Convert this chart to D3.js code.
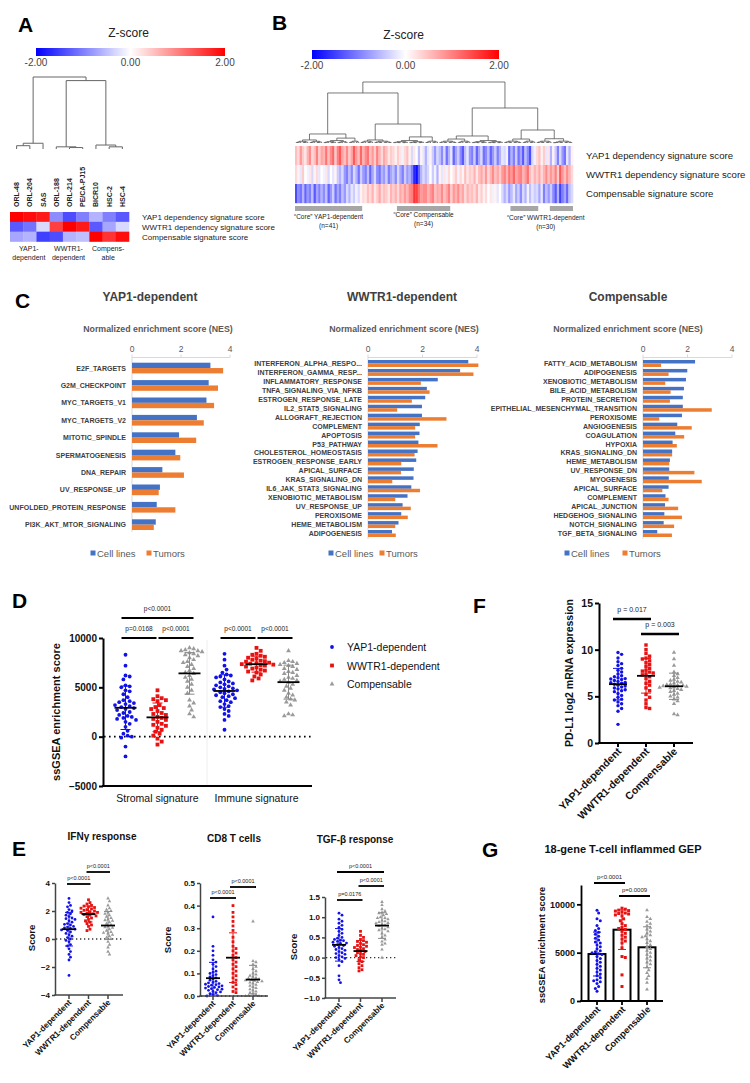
<!DOCTYPE html>
<html>
<head>
<meta charset="utf-8">
<script src="https://cdn.jsdelivr.net/npm/d3@7"></script>
<style>
  body { margin: 0; background: #fff; }
  svg { font-family: "Liberation Sans", Arial, sans-serif; }
</style>
</head>
<body>
<svg id="fig" width="750" height="1083"></svg>
<script>
// ---------------- data ----------------
const zTicks = ["-2.00", "0.00", "2.00"];
const sigRows = ["YAP1 dependency signature score", "WWTR1 dependency signature score", "Compensable signature score"];
const groupNames = ["YAP1-dependent", "WWTR1-dependent", "Compensable"];

// panel A: cell lines
const cellLines = ["ORL-48", "ORL-204", "SAS", "ORL-188", "ORL-214", "PE/CA-PJ15", "BICR10", "HSC-2", "HSC-4"];
const cellYap1 = [2.0, 1.9, 1.8, -0.9, -1.4, -1.0, -0.6, -1.0, -1.3];
const cellWwtr1 = [-1.3, -1.1, -0.3, 1.5, 2.0, 1.8, -1.3, -0.7, -0.3];
const cellComp = [-0.7, -0.6, -1.5, -1.4, -0.6, -0.5, 2.0, 1.6, 1.9];
const cellGroups = [["YAP1-", "dependent"], ["WWTR1-", "dependent"], ["Compens-", "able"]];
const cellTree = { h: 1, children: [
  { h: 0.08, children: [{ h: 0.046, children: [{ name: "ORL-48" }, { name: "ORL-204" }] }, { name: "SAS" }] },
  { h: 0.95, children: [
    { h: 0.03, children: [{ name: "ORL-188" }, { h: 0.02, children: [{ name: "ORL-214" }, { name: "PE/CA-PJ15" }] }] },
    { h: 0.055, children: [{ name: "BICR10" }, { h: 0.03, children: [{ name: "HSC-2" }, { name: "HSC-4" }] }] }
  ] }
] };

// panel B: tumours (one value per heatmap column)
const tumorYap1 = [
  0.5, 0.3, 0.8, 0.4, 0.2, 0.6, 0.9, 0.3, 0.5, 1.0, 0.4, 0.7,
  0.6, 1.1, 0.5, 0.9, 1.2, 0.4, 1.0, 1.3, 0.7, 0.5, 0.9,
  0.4, 0.7, 1.3, 0.8, 0.5,
  1.2, 0.6, 0.9, 1.1, 0.5, 0.8, 0.4, 1.0, 0.6, 0.3, 0.7, 0.5, 0.2, 0.4,
  0.3, 0.1, 0.4, 0.2, -0.1, 0.3, 0.5, 0.1, -0.3, 0.2, 0.0, -0.5, 0.1, -0.2,
  -0.6, -0.2, 0.1, -0.4, -0.8, -0.3,
  -0.5, -0.9, -0.3, -1.1, -0.6, -0.2, -1.2, -0.7, -0.4, -0.9, -1.3, -0.5, -0.2, -0.8,
  -1.0, -0.4, -1.2, -0.7, -0.3, -1.1, -0.9, -0.5, -1.2, -0.8, -0.4, -1.0, -0.6, -0.2,
  -0.3, -0.1, -1.2, -0.6, -1.0, -0.4, -1.1, -0.7, -1.3, -0.5, -0.9, -1.4, -0.3, -0.1,
  0.3, 0.5, 0.1, 0.4, -0.2, 0.2, -0.6,
  0.1, -0.4, -1.0, -0.3, -0.8, -1.1, -0.2, -0.6, 0.1
];
const tumorWwtr1 = [
  0.3, 0.1, -0.2, 0.4, 0.0, -0.1, 0.2, -0.3, 0.1, 0.3, -0.2, 0.0,
  -0.1, 0.2, -0.3, 0.0, -0.2, 0.1, -0.4, -0.6, -0.3, -0.8, -1.0,
  -0.5, -0.9, -0.3, -0.6, -1.1,
  -0.4, -0.8, -1.0, -0.5, -1.2, -0.7, -0.3, -0.9, -1.1, -0.6, -0.8, -0.4, -1.0, -0.7,
  -0.5, -0.9, -0.3, -0.7, -1.0, -0.4, -0.8, -0.6, -1.0, -1.7, -1.9, -1.2, -0.6, -0.3,
  -0.5, -0.3, 0.0, -0.4, -0.1, -0.6,
  0.1, -0.2, 0.2, -0.1, 0.3, 0.0, 0.2, 0.4, -0.1, 0.3, 0.1, 0.5, 0.2, 0.4,
  0.3, 0.6, 0.2, 0.5, 0.7, 0.4, 0.8, 0.3, 0.6, 0.9, 0.5, 0.7, 0.4, 0.8,
  1.0, 0.6, 1.1, 0.8, 1.2, 0.7, 0.9, 1.0, 0.6, 0.8, 1.1, 0.5, 0.3, 0.6,
  0.4, 0.7, 0.3, 0.6, 0.9, 0.5, 0.8,
  0.6, 1.0, 0.4, 1.3, 0.8, 0.5, 0.9, 0.6, 0.3
];
const tumorComp = [
  -1.4, -0.9, -1.1, -0.6, -1.2, -0.8, -1.0, -0.5, -1.3, -0.7, -1.0, -0.6,
  -0.9, -0.5, -1.2, -0.8, -0.4, -1.1, -0.7, -1.0, -0.5, -0.8, -0.3,
  -0.6, -0.2, -0.4, -0.1, -0.3,
  0.1, 0.3, 0.2, 0.5, 0.3, 0.6, 0.2, 0.4, 0.7, 0.3, 0.5, 0.4, 0.2, 0.6,
  0.4, 0.6, 0.3, 0.7, 0.5, 0.8, 0.6, 0.9, 1.0, 1.6, 1.5, 1.1, 0.8, 0.9,
  0.9, 0.6, 0.8, 1.0, 0.5, 0.7,
  0.6, 0.9, 0.5, 0.7, 1.0, 0.4, 0.8, 0.6, 0.9, 0.5, 0.7, 0.3, 0.6, 0.4,
  0.5, 0.3, 0.6, 0.2, 0.4, 0.1, 0.3, 0.0, 0.2, -0.1, 0.1, -0.2, 0.0, -0.3,
  -0.6, -0.3, -0.8, -0.5, -0.2, -0.7, -0.4, -0.9, -0.3, -0.6, -0.1, -0.5, -0.2, -0.4,
  -0.3, -0.7, -0.2, -1.0, -0.5, -0.8, -0.4,
  -0.9, -1.3, -0.6, -1.5, -1.0, -0.7, -1.2, -0.5, -0.3
];
// column ranges of the clusters under the dendrogram
const tumorTree = { h: 1, children: [
  { h: 0.82, children: [
    { h: 0.148, children: [{ h: 0.05, cols: [0, 11] }, { h: 0.08, children: [{ h: 0.04, cols: [12, 22] }, { h: 0.03, cols: [23, 27] }] }] },
    { h: 0.311, children: [
      { h: 0.05, children: [{ h: 0.03, cols: [28, 33] }, { h: 0.03, cols: [34, 41] }] },
      { h: 0.1, children: [{ h: 0.04, cols: [42, 55] }, { h: 0.03, cols: [56, 61] }] }
    ] }
  ] },
  { h: 0.574, children: [
    { h: 0.115, children: [{ h: 0.065, children: [{ h: 0.03, cols: [62, 69] }, { h: 0.03, cols: [70, 75] }] }, { h: 0.04, cols: [76, 89] }] },
    { h: 0.213, children: [
      { h: 0.065, children: [{ h: 0.03, cols: [90, 97] }, { h: 0.03, cols: [98, 103] }] },
      { h: 0.07, children: [{ h: 0.03, cols: [104, 110] }, { h: 0.03, cols: [111, 119] }] }
    ] }
  ] }
] };
const coreBars = [[0, 28], [44, 66], [93, 104], [110, 119]];
const coreLabels = [["“Core” YAP1-dependent", "(n=41)"], ["“Core” Compensable", "(n=34)"], ["“Core” WWTR1-dependent", "(n=30)"]];

// panel C: NES
const yapPathways = ["E2F_TARGETS", "G2M_CHECKPOINT", "MYC_TARGETS_V1", "MYC_TARGETS_V2", "MITOTIC_SPINDLE",
  "SPERMATOGENESIS", "DNA_REPAIR", "UV_RESPONSE_UP", "UNFOLDED_PROTEIN_RESPONSE", "PI3K_AKT_MTOR_SIGNALING"];
const yapCell = [3.2, 3.13, 3.04, 2.65, 1.92, 1.77, 1.24, 1.14, 1.01, 0.97];
const yapTumor = [3.72, 3.51, 3.35, 2.93, 2.62, 1.97, 2.12, 1.09, 1.77, 0.89];
const wwtrPathways = ["INTERFERON_ALPHA_RESPO...", "INTERFERON_GAMMA_RESP...", "INFLAMMATORY_RESPONSE", "TNFA_SIGNALING_VIA_NFKB",
  "ESTROGEN_RESPONSE_LATE", "IL2_STAT5_SIGNALING", "ALLOGRAFT_REJECTION", "COMPLEMENT", "APOPTOSIS", "P53_PATHWAY",
  "CHOLESTEROL_HOMEOSTASIS", "ESTROGEN_RESPONSE_EARLY", "APICAL_SURFACE", "KRAS_SIGNALING_DN", "IL6_JAK_STAT3_SIGNALING",
  "XENOBIOTIC_METABOLISM", "UV_RESPONSE_UP", "PEROXISOME", "HEME_METABOLISM", "ADIPOGENESIS"];
const wwtrCell = [3.68, 3.38, 2.56, 2.16, 2.1, 1.98, 1.98, 1.9, 1.89, 1.85, 1.82, 1.77, 1.68, 1.67, 1.59, 1.45, 1.27, 1.22, 1.12, 0.88];
const wwtrTumor = [4.05, 3.87, 1.94, 2.26, 1.61, 1.07, 2.88, 1.73, 1.73, 2.55, 1.71, 1.22, 1.21, 0.89, 1.91, 1.0, 1.57, 1.46, 1.0, 1.02];
const compPathways = ["FATTY_ACID_METABOLISM", "ADIPOGENESIS", "XENOBIOTIC_METABOLISM", "BILE_ACID_METABOLISM", "PROTEIN_SECRETION",
  "EPITHELIAL_MESENCHYMAL_TRANSITION", "PEROXISOME", "ANGIOGENESIS", "COAGULATION", "HYPOXIA", "KRAS_SIGNALING_DN",
  "HEME_METABOLISM", "UV_RESPONSE_DN", "MYOGENESIS", "APICAL_SURFACE", "COMPLEMENT", "APICAL_JUNCTION",
  "HEDGEHOG_SIGNALING", "NOTCH_SIGNALING", "TGF_BETA_SIGNALING"];
const compCell = [2.34, 1.99, 1.93, 1.84, 1.79, 1.79, 1.75, 1.54, 1.45, 1.33, 1.31, 1.21, 1.18, 1.16, 1.15, 1.01, 0.99, 0.96, 0.93, 0.64];
const compTumor = [0.81, 1.15, 1.0, 1.24, 1.21, 3.09, 0.73, 2.19, 1.85, 1.52, 1.31, 1.18, 2.31, 2.64, 0.87, 1.15, 1.58, 1.75, 1.4, 1.3];
const nesTicks = [0, 2, 4];

// panel D: ssGSEA scores
const dCategories = ["Stromal signature", "Immune signature"];
const stromalYap = [8300, 7200, 6200, 6100, 5800, 5200, 5100, 5000, 4700, 4600, 4300, 4000, 3700, 3600, 3500, 3400, 3300, 3200,
  3100, 3000, 2900, 2800, 2700, 2500, 2400, 2200, 2100, 2000, 1900, 1800, 1700, 1500, 1300, 1000, 600, 300, 100, 0, -100, -1000, -2000];
const stromalWwtr = [4700, 4100, 3900, 3800, 3700, 3600, 3200, 3000, 2900, 2800, 2600, 2400, 2300, 2200, 2000, 1900, 1800, 1700,
  1500, 1300, 1200, 1100, 900, 700, 500, 300, 100, -200, -500, -800];
const stromalComp = [9000, 8900, 8800, 8700, 8700, 8600, 8500, 8400, 8300, 8200, 8000, 7800, 7600, 7500, 7300, 7100, 6900, 6700,
  6500, 6400, 6200, 6000, 5800, 5600, 5300, 5000, 4700, 4400, 3700, 3400, 3100, 2700, 2300, 2000];
const immuneYap = [8400, 7800, 7200, 6800, 6500, 6300, 6200, 6100, 6000, 5800, 5600, 5500, 5400, 5300, 5200, 5100, 5000, 4900,
  4850, 4800, 4700, 4600, 4500, 4400, 4300, 4200, 4100, 4000, 3900, 3700, 3600, 3500, 3300, 3100, 3000, 2800, 2600, 2300, 2100, 1700, 700];
const immuneWwtr = [9000, 8700, 8400, 8300, 8200, 8100, 8000, 7900, 7800, 7700, 7650, 7600, 7500, 7450, 7400, 7350, 7300, 7250,
  7200, 7100, 7000, 6900, 6800, 6700, 6600, 6500, 6300, 6100, 5900, 5700];
const immuneComp = [8700, 7700, 7600, 7500, 7400, 7300, 7200, 7100, 6900, 6800, 6600, 6500, 6400, 6200, 6000, 5900, 5800, 5700,
  5600, 5500, 5300, 5100, 4900, 4700, 4400, 4200, 4000, 3800, 3700, 3500, 3200, 2300, 2200, 2100];
const dTicks = [-5000, 0, 5000, 10000];
const dSig = [
  { cat: 0, a: 0, b: 2, p: "p<0.0001", level: 1 },
  { cat: 0, a: 0, b: 1, p: "p=0.0168", level: 0 },
  { cat: 0, a: 1, b: 2, p: "p<0.0001", level: 0 },
  { cat: 1, a: 0, b: 1, p: "p<0.0001", level: 0 },
  { cat: 1, a: 1, b: 2, p: "p<0.0001", level: 0 }
];

// panel F: PD-L1
const pdl1Yap = [9.7, 9.5, 9.1, 8.7, 8.5, 8.3, 8.0, 7.8, 7.6, 7.4, 7.2, 7.1, 7.0, 6.9, 6.85, 6.8, 6.7, 6.6, 6.5, 6.45, 6.4,
  6.3, 6.2, 6.1, 6.0, 5.9, 5.8, 5.7, 5.6, 5.5, 5.3, 5.1, 4.9, 4.7, 4.6, 4.4, 4.2, 4.0, 3.7, 3.4, 2.0];
const pdl1Wwtr = [10.5, 10.0, 9.6, 9.3, 9.1, 9.0, 8.8, 8.6, 8.4, 8.2, 8.0, 7.8, 7.7, 7.6, 7.5, 7.4, 7.3, 7.1, 6.9, 6.6,
  6.4, 6.2, 5.9, 5.6, 5.2, 4.9, 4.6, 4.2, 3.8, 3.7];
const pdl1Comp = [9.7, 9.0, 8.3, 7.6, 7.4, 7.2, 7.0, 6.8, 6.7, 6.6, 6.5, 6.4, 6.3, 6.25, 6.2, 6.15, 6.1, 6.05, 6.0, 5.95,
  5.9, 5.8, 5.7, 5.6, 5.5, 5.3, 5.2, 5.0, 4.9, 4.7, 4.5, 4.2, 3.1, 3.0];
const pdl1Ticks = [0, 5, 10, 15];
const pdl1Sig = [{ a: 0, b: 1, p: "p = 0.017", level: 1 }, { a: 1, b: 2, p: "p = 0.003", level: 0 }];

// panel E
const ifngYap = [2.9, 2.6, 2.4, 2.3, 2.1, 2.0, 1.9, 1.8, 1.7, 1.6, 1.5, 1.45, 1.4, 1.3, 1.2, 1.1, 1.05, 1.0, 0.9, 0.85, 0.8,
  0.75, 0.7, 0.65, 0.6, 0.5, 0.4, 0.3, 0.2, 0.1, 0.0, -0.1, -0.2, -0.4, -0.5, -0.7, -0.9, -1.1, -1.3, -1.5, -2.6];
const ifngWwtr = [2.8, 2.6, 2.5, 2.4, 2.35, 2.3, 2.25, 2.2, 2.15, 2.1, 2.05, 2.0, 1.95, 1.9, 1.9, 1.85, 1.8, 1.75, 1.7, 1.65,
  1.6, 1.5, 1.4, 1.3, 1.2, 1.1, 1.0, 0.9, 0.7, 0.6];
const ifngComp = [2.9, 2.7, 2.4, 2.2, 2.1, 2.0, 1.9, 1.8, 1.7, 1.6, 1.5, 1.4, 1.35, 1.3, 1.2, 1.1, 1.0, 0.9, 0.85, 0.8, 0.7,
  0.6, 0.5, 0.45, 0.4, 0.3, 0.2, 0.1, 0.0, -0.2, -0.4, -0.6, -0.9, -1.1];
const cd8Yap = [0.35, 0.22, 0.2, 0.18, 0.16, 0.15, 0.14, 0.13, 0.12, 0.11, 0.105, 0.1, 0.095, 0.09, 0.085, 0.08, 0.075, 0.07,
  0.065, 0.06, 0.058, 0.055, 0.052, 0.05, 0.048, 0.045, 0.042, 0.04, 0.038, 0.035, 0.032, 0.03, 0.028, 0.025, 0.02, 0.018,
  0.015, 0.01, 0.005, 0.002, 0.0];
const cd8Wwtr = [0.40, 0.37, 0.35, 0.33, 0.31, 0.29, 0.26, 0.24, 0.22, 0.21, 0.2, 0.19, 0.18, 0.17, 0.16, 0.15, 0.14, 0.13,
  0.12, 0.11, 0.1, 0.09, 0.08, 0.07, 0.06, 0.05, 0.04, 0.03, 0.02, 0.015];
const cd8Comp = [0.33, 0.155, 0.15, 0.14, 0.13, 0.12, 0.11, 0.1, 0.095, 0.09, 0.085, 0.08, 0.078, 0.075, 0.072, 0.07, 0.068,
  0.065, 0.062, 0.06, 0.055, 0.05, 0.045, 0.04, 0.035, 0.03, 0.025, 0.02, 0.015, 0.01, 0.005, 0.002, 0.0, 0.0];
const tgfbYap = [1.1, 1.05, 0.95, 0.9, 0.85, 0.8, 0.75, 0.7, 0.65, 0.6, 0.55, 0.5, 0.48, 0.45, 0.43, 0.42, 0.4, 0.38, 0.36,
  0.35, 0.32, 0.3, 0.28, 0.25, 0.22, 0.2, 0.18, 0.15, 0.12, 0.1, 0.08, 0.05, 0.02, 0.0, -0.02, -0.05, -0.1, -0.2, -0.45, -0.55, -0.62];
const tgfbWwtr = [0.65, 0.55, 0.5, 0.45, 0.42, 0.4, 0.38, 0.35, 0.32, 0.3, 0.28, 0.26, 0.25, 0.22, 0.2, 0.18, 0.15, 0.12, 0.1,
  0.08, 0.05, 0.02, 0.0, -0.05, -0.1, -0.15, -0.2, -0.25, -0.3, -0.33];
const tgfbComp = [1.38, 1.3, 1.2, 1.15, 1.12, 1.1, 1.08, 1.05, 1.0, 0.98, 0.98, 0.95, 0.92, 0.9, 0.88, 0.86, 0.85, 0.82, 0.8,
  0.78, 0.75, 0.72, 0.7, 0.68, 0.65, 0.6, 0.55, 0.5, 0.45, 0.4, 0.35, 0.32, 0.2, 0.0];
const ifngSig = [{ a: 0, b: 1, p: "p<0.0001", level: 0 }, { a: 1, b: 2, p: "p<0.0001", level: 1 }];
const cd8Sig = [{ a: 0, b: 1, p: "p<0.0001", level: 0 }, { a: 1, b: 2, p: "p<0.0001", level: 1 }];
const tgfbSig = [{ a: 0, b: 1, p: "p=0.0176", level: 0 }, { a: 1, b: 2, p: "p<0.0001", level: 1 }, { a: 0, b: 2, p: "p<0.0001", level: 2 }];

// panel G
const gepYap = [9400, 9100, 8500, 8300, 7800, 7500, 7300, 7100, 6900, 6700, 6500, 6300, 6100, 6000, 5800, 5600, 5400, 5200,
  5100, 5000, 4900, 4800, 4600, 4400, 4200, 4000, 3800, 3600, 3400, 3200, 3000, 2800, 2600, 2400, 2200, 2100, 2000, 1800, 1500, 1300, 1000];
const gepWwtr = [9600, 9500, 9400, 9350, 9300, 9200, 9100, 9050, 9000, 8900, 8800, 8500, 8300, 8000, 7800, 7600, 7500, 7400,
  7200, 7000, 6800, 6600, 6400, 6200, 6000, 5500, 4600, 4500, 2700, 1500];
const gepComp = [9400, 8700, 8500, 8200, 8000, 7800, 7600, 7400, 7200, 7000, 6800, 6700, 6600, 6400, 6200, 6000, 5800, 5600,
  5400, 5200, 5000, 4800, 4600, 4400, 4200, 4000, 3800, 3500, 3200, 2900, 2600, 2300, 1900, 1200];
const gepTicks = [0, 5000, 10000];
const gepSig = [{ a: 0, b: 1, p: "p<0.0001", level: 1 }, { a: 1, b: 2, p: "p=0.0009", level: 0 }];

// ---------------- drawing ----------------
const svg = d3.select("#fig");
const defs = svg.append("defs");
const GROUP_COLORS = ["#1212e8", "#e81212", "#9a9a9a"];
const SD_COLORS = ["#1212e8", "#e81212", "#8a8a8a"];
const BLUE = "#4472c4", ORANGE = "#ed7d31";
const zColor = d3.scaleLinear().domain([-2, 0, 2]).range(["#0000ff", "#ffffff", "#ff0000"]).clamp(true);

function letter(t, x, y) {
  svg.append("text").attr("x", x).attr("y", y).attr("font-size", 21).attr("font-weight", "bold").text(t);
}

function colorBar(x0, x1, y0, h, id) {
  const grad = defs.append("linearGradient").attr("id", id);
  [-2, -1, 0, 1, 2].forEach(v => grad.append("stop").attr("offset", (v + 2) / 4).attr("stop-color", zColor(v)));
  const s = d3.scaleLinear().domain([-2, 2]).range([x0, x1]);
  svg.append("text").attr("x", s(0) - 2).attr("y", y0 - 11).attr("text-anchor", "middle")
    .attr("font-size", 12).attr("fill", "#222").text("Z-score");
  svg.append("rect").attr("x", x0).attr("y", y0).attr("width", x1 - x0).attr("height", h).attr("fill", `url(#${id})`);
  svg.selectAll(null).data(zTicks).join("text")
    .attr("x", d => s(+d)).attr("y", y0 + h + 9.5).attr("text-anchor", "middle")
    .attr("font-size", 10).attr("fill", "#444").text(d => d);
}

// draws an elbow dendrogram; leaves carry an x, inner nodes a height h
function drawDendro(tree, leafX, yH, stroke, sw) {
  const root = d3.hierarchy(tree);
  root.eachAfter(n => {
    if (!n.children) { n.px = leafX(n.data); n.py = yH(0); return; }
    n.px = (n.children[0].px + n.children[n.children.length - 1].px) / 2;
    n.py = yH(n.data.h);
  });
  const segs = [];
  root.each(n => {
    if (!n.children) return;
    const a = n.children[0], b = n.children[n.children.length - 1];
    segs.push(`M${a.px},${a.py}V${n.py}H${b.px}V${b.py}`);
  });
  svg.append("path").attr("d", segs.join("")).attr("fill", "none").attr("stroke", stroke).attr("stroke-width", sw);
}

// ---- A ----
letter("A", 18, 32);
colorBar(36, 225, 48, 8, "zA");
const xA = d3.scaleBand().domain(cellLines).range([10, 129]);
const yA = d3.scaleBand().domain(sigRows).range([212, 241.5]);
const yHA = d3.scaleLinear().domain([0, 1]).range([149, 77]);
drawDendro(cellTree, d => xA(d.name) + xA.bandwidth() / 2, yHA, "#666", 1);
svg.selectAll(null).data(cellLines).join("text")
  .attr("transform", d => `translate(${xA(d) + xA.bandwidth() / 2 + 2.5},207) rotate(-90)`)
  .attr("font-size", 7).attr("font-weight", "bold").attr("fill", "#222").text(d => d);
[cellYap1, cellWwtr1, cellComp].forEach((row, r) => {
  svg.selectAll(null).data(row).join("rect")
    .attr("x", (d, i) => xA(cellLines[i])).attr("y", yA(sigRows[r]))
    .attr("width", xA.bandwidth() + 0.3).attr("height", yA.bandwidth() + 0.3)
    .attr("fill", d => zColor(d));
});
svg.selectAll(null).data(sigRows).join("text")
  .attr("x", 142).attr("y", d => yA(d) + yA.bandwidth() / 2 + 3)
  .attr("font-size", 8).attr("fill", "#222").text(d => d);
cellGroups.forEach((lines, i) => {
  const cx = xA(cellLines[i * 3 + 1]) + xA.bandwidth() / 2 - 1;
  lines.forEach((t, j) => svg.append("text").attr("x", cx).attr("y", 251 + j * 9)
    .attr("text-anchor", "middle").attr("font-size", 7).attr("fill", "#222").text(t));
});

// ---- B ----
letter("B", 272, 30);
colorBar(312, 499, 50, 9, "zB");
const nCols = tumorYap1.length;
const xB = d3.scaleBand().domain(d3.range(nCols)).range([295, 573]);
const yB = d3.scaleBand().domain(sigRows).range([146, 203]);
const yHB = d3.scaleLinear().domain([0, 1]).range([143, 82]);
function splitCols(a, b, h) {
  if (a === b) return { col: a };
  const m = Math.floor((a + b) / 2);
  return { h, children: [splitCols(a, m, h * 0.55), splitCols(m + 1, b, h * 0.55)] };
}
function expandTree(n) {
  if (n.cols) return splitCols(n.cols[0], n.cols[1], n.h);
  return { h: n.h, children: n.children.map(expandTree) };
}
drawDendro(expandTree(tumorTree), d => xB(d.col) + xB.bandwidth() / 2, yHB, "#555", 0.8);
[tumorYap1, tumorWwtr1, tumorComp].forEach((row, r) => {
  svg.selectAll(null).data(row).join("rect")
    .attr("x", (d, i) => xB(i)).attr("y", yB(sigRows[r]))
    .attr("width", xB.bandwidth() + 0.3).attr("height", yB.bandwidth() + 0.2)
    .attr("fill", d => zColor(d));
});
svg.selectAll(null).data(sigRows).join("text")
  .attr("x", 586).attr("y", d => yB(d) + yB.bandwidth() / 2 + 3.5)
  .attr("font-size", 9.6).attr("fill", "#222").text(d => d);
svg.selectAll(null).data(coreBars).join("rect")
  .attr("x", d => xB(d[0])).attr("y", 206).attr("width", d => xB(d[1]) + xB.bandwidth() - xB(d[0])).attr("height", 5)
  .attr("fill", "#a6a6a6");
const coreCx = [
  (xB(coreBars[0][0]) + xB(coreBars[0][1]) + xB.bandwidth()) / 2,
  (xB(coreBars[1][0]) + xB(coreBars[1][1]) + xB.bandwidth()) / 2,
  (xB(coreBars[2][0]) + xB(coreBars[3][1]) + xB.bandwidth()) / 2 + 4
];
coreLabels.forEach((lines, i) => {
  lines.forEach((t, j) => svg.append("text").attr("x", coreCx[i]).attr("y", (i === 1 ? 217 : i === 2 ? 220 : 219) + j * 9)
    .attr("text-anchor", "middle").attr("font-size", 6.5).attr("fill", "#222").text(t));
});

// ---- C ----
letter("C", 15, 308);
function nesPanel(cfg, names, cell, tumor) {
  const g = svg.append("g");
  const x = d3.scaleLinear().domain([0, 4]).range([cfg.x0, cfg.x4]);
  const y = d3.scaleBand().domain(names).range([cfg.top, cfg.bottom]).paddingInner(cfg.pad);
  const half = y.bandwidth() / 2;
  g.append("text").attr("x", cfg.tx).attr("y", 301).attr("text-anchor", "middle")
    .attr("font-size", 12).attr("font-weight", "bold").attr("fill", "#404040").text(cfg.title);
  g.append("text").attr("x", cfg.nx).attr("y", 332).attr("text-anchor", "middle")
    .attr("font-size", 8.8).attr("font-weight", "bold").attr("fill", "#595959").text("Normalized enrichment score (NES)");
  g.append("line").attr("x1", x(0)).attr("x2", x(4)).attr("y1", 357.5).attr("y2", 357.5).attr("stroke", "#d9d9d9");
  g.append("line").attr("x1", x(0)).attr("x2", x(0)).attr("y1", 357.5).attr("y2", cfg.bottom + 2).attr("stroke", "#d9d9d9");
  g.selectAll(null).data(nesTicks).join("line")
    .attr("x1", d => x(d)).attr("x2", d => x(d)).attr("y1", 354.5).attr("y2", 357.5).attr("stroke", "#d9d9d9");
  g.selectAll(null).data(nesTicks).join("text")
    .attr("x", d => x(d)).attr("y", 352).attr("text-anchor", "middle")
    .attr("font-size", 8.5).attr("fill", "#595959").text(d => d);
  g.selectAll(null).data(names).join("rect")
    .attr("x", x(0)).attr("y", d => y(d)).attr("width", (d, i) => x(cell[i]) - x(0)).attr("height", half).attr("fill", BLUE);
  g.selectAll(null).data(names).join("rect")
    .attr("x", x(0)).attr("y", d => y(d) + half).attr("width", (d, i) => x(tumor[i]) - x(0)).attr("height", half).attr("fill", ORANGE);
  g.selectAll(null).data(names).join("text")
    .attr("x", x(0) - 6).attr("y", d => y(d) + half + 2.5).attr("text-anchor", "end")
    .attr("font-size", 7).attr("font-weight", "bold").attr("fill", "#404040").text(d => d);
  [[cfg.lx[0], BLUE, "Cell lines"], [cfg.lx[1], ORANGE, "Tumors"]].forEach(([lx, c, t]) => {
    g.append("rect").attr("x", lx - 2.5).attr("y", 550.5).attr("width", 5).attr("height", 5).attr("fill", c);
    g.append("text").attr("x", lx + 4).attr("y", 556.5).attr("font-size", 9.5).attr("fill", "#595959").text(t);
  });
}
nesPanel({ title: "YAP1-dependent", tx: 150, nx: 158, x0: 132, x4: 230, top: 362.7, bottom: 530, pad: 0.385, lx: [93, 149] },
  yapPathways, yapCell, yapTumor);
nesPanel({ title: "WWTR1-dependent", tx: 402, nx: 404, x0: 368, x4: 477, top: 360, bottom: 537, pad: 0.22, lx: [331, 382] },
  wwtrPathways, wwtrCell, wwtrTumor);
nesPanel({ title: "Compensable", tx: 628, nx: 628, x0: 643, x4: 732, top: 360, bottom: 537, pad: 0.22, lx: [567, 625] },
  compPathways, compCell, compTumor);

// ---- helpers for the dot plots ----
function swarm(vals, y, cx, d) {
  const pts = vals.map(v => ({ v, py: y(v) })).sort((a, b) => a.py - b.py);
  const placed = [];
  pts.forEach(p => {
    p.px = cx;
    for (let k = 0; k < 60; k++) {
      const px = cx + (k % 2 ? 1 : -1) * Math.ceil(k / 2) * d * 0.5;
      if (placed.every(q => (q.px - px) ** 2 + (q.py - p.py) ** 2 >= d * d)) { p.px = px; break; }
    }
    placed.push(p);
  });
  return pts;
}

function marker(sel, kind, s) {
  if (kind === 0) return sel.append("circle").attr("r", s / 2).attr("fill", GROUP_COLORS[0]);
  if (kind === 1) return sel.append("rect").attr("x", -s / 2).attr("y", -s / 2).attr("width", s).attr("height", s).attr("fill", GROUP_COLORS[1]);
  return sel.append("path").attr("d", d3.symbol(d3.symbolTriangle, s * s * 0.7)()).attr("fill", GROUP_COLORS[2]);
}

function dotGroup(g, vals, kind, cx, y, o) {
  const m = d3.mean(vals), s = d3.deviation(vals);
  if (o.bar) {
    g.append("rect").attr("x", cx - o.bar / 2).attr("y", y(m)).attr("width", o.bar).attr("height", y(0) - y(m))
      .attr("fill", "#fff").attr("stroke", "#000").attr("stroke-width", 2);
  }
  swarm(vals, y, cx, o.d).forEach(p =>
    marker(g.append("g").attr("transform", `translate(${p.px},${p.py})`), kind, o.size));
  g.append("path")
    .attr("d", `M${cx},${y(m - s)}V${y(m + s)}M${cx - o.cap},${y(m - s)}H${cx + o.cap}M${cx - o.cap},${y(m + s)}H${cx + o.cap}`)
    .attr("fill", "none").attr("stroke", SD_COLORS[kind]).attr("stroke-width", 1);
  if (o.mean) {
    g.append("line").attr("x1", cx - o.mean).attr("x2", cx + o.mean).attr("y1", y(m)).attr("y2", y(m))
      .attr("stroke", "#000").attr("stroke-width", 1.8);
  }
}

function sigBars(g, list, xOf, o) {
  list.forEach(s => {
    let x1 = xOf(s)[0] - o.ext, x2 = xOf(s)[1] + o.ext;
    list.forEach(t => {
      if (t === s || t.level !== s.level || t.cat !== s.cat) return;
      if (t.b === s.a) x1 += o.gap;
      if (t.a === s.b) x2 -= o.gap;
    });
    const yy = o.base - s.level * o.step;
    g.append("line").attr("x1", x1).attr("x2", x2).attr("y1", yy).attr("y2", yy)
      .attr("stroke", "#000").attr("stroke-width", o.w);
    g.append("text").attr("x", (x1 + x2) / 2).attr("y", yy - o.ly).attr("text-anchor", "middle")
      .attr("font-size", o.fs).attr("fill", "#222").text(s.p);
  });
}

function leftAxis(g, y, x, ticks, fmt, o) {
  const ax = g.append("g").attr("transform", `translate(${x},0)`)
    .call(d3.axisLeft(y).tickValues(ticks).tickFormat(fmt).tickSize(o.tick).tickSizeOuter(0).tickPadding(2));
  ax.select(".domain").attr("stroke", o.color).attr("stroke-width", o.w);
  ax.selectAll(".tick line").attr("stroke", o.color).attr("stroke-width", o.w);
  ax.selectAll(".tick text").attr("font-size", o.fs).attr("font-weight", "bold").attr("fill", "#111")
    .attr("font-family", '"Liberation Sans", Arial, sans-serif');
}

function yTitle(g, t, x, y, fs) {
  g.append("text").attr("transform", `translate(${x},${y}) rotate(-90)`).attr("text-anchor", "middle")
    .attr("font-size", fs).attr("font-weight", "bold").attr("fill", "#111").text(t);
}

// ---- D ----
letter("D", 12, 608);
{
  const g = svg.append("g");
  const y = d3.scaleLinear().domain([-5000, 10000]).range([786, 638]);
  const xc = d3.scaleBand().domain(dCategories).range([108, 306]);
  const off = d3.scalePoint().domain([0, 1, 2]).range([-32, 32]);
  const gx = (c, i) => xc(dCategories[c]) + xc.bandwidth() / 2 + off(i);
  g.append("line").attr("x1", 207).attr("x2", 207).attr("y1", 640).attr("y2", 785).attr("stroke", "#eee");
  g.append("line").attr("x1", 104).attr("x2", 312).attr("y1", y(0)).attr("y2", y(0))
    .attr("stroke", "#000").attr("stroke-width", 1.6).attr("stroke-dasharray", "1.6,3.4");
  const dData = [[stromalYap, stromalWwtr, stromalComp], [immuneYap, immuneWwtr, immuneComp]];
  dData.forEach((grp, c) => grp.forEach((vals, i) =>
    dotGroup(g, vals, i, gx(c, i), y, { d: 4.2, size: 3.8, cap: 5, mean: 11 })));
  leftAxis(g, y, 103, dTicks, d3.format("d"), { tick: 4, color: "#000", w: 2, fs: 10 });
  g.append("line").attr("x1", 102).attr("x2", 312).attr("y1", 786).attr("y2", 786).attr("stroke", "#000").attr("stroke-width", 2);
  g.selectAll(null).data(dCategories).join("text")
    .attr("x", d => xc(d) + xc.bandwidth() / 2).attr("y", 802).attr("text-anchor", "middle")
    .attr("font-size", 10.5).attr("fill", "#111").text(d => d);
  yTitle(g, "ssGSEA enrichment score", 60, 712, 11);
  sigBars(g, dSig, s => [gx(s.cat, s.a), gx(s.cat, s.b)], { ext: 4, gap: 5, base: 638, step: 20, w: 2, ly: 7, fs: 6.5 });
  groupNames.forEach((t, i) => {
    const ly = 647 + i * 18.5;
    marker(g.append("g").attr("transform", `translate(332,${ly})`), i, 3.8);
    g.append("text").attr("x", 347).attr("y", ly + 4).attr("font-size", 10.5).attr("fill", "#111").text(t);
  });
}

// ---- generic three-group dot plot (E, F, G) ----
function dotPlot(cfg) {
  const g = svg.append("g");
  const y = d3.scaleLinear().domain(cfg.domain).range([cfg.bottom, cfg.top]);
  const x = d3.scalePoint().domain([0, 1, 2]).range(cfg.xs);
  if (cfg.zero) {
    g.append("line").attr("x1", cfg.left + 1).attr("x2", cfg.right).attr("y1", y(0)).attr("y2", y(0))
      .attr("stroke", "#333").attr("stroke-width", 1.3).attr("stroke-dasharray", "1.3,2.7");
  }
  cfg.data.forEach((vals, i) => dotGroup(g, vals, i, x(i), y, cfg.dot));
  leftAxis(g, y, cfg.left, cfg.ticks, cfg.fmt, cfg.axis);
  g.append("line").attr("x1", cfg.left - cfg.axis.w / 2).attr("x2", cfg.right).attr("y1", cfg.bottom).attr("y2", cfg.bottom)
    .attr("stroke", cfg.axis.color).attr("stroke-width", cfg.axis.w);
  g.selectAll(null).data([0, 1, 2]).join("line")
    .attr("x1", d => x(d)).attr("x2", d => x(d)).attr("y1", cfg.bottom).attr("y2", cfg.bottom + 4)
    .attr("stroke", cfg.axis.color).attr("stroke-width", cfg.axis.w);
  g.selectAll(null).data(groupNames).join("text")
    .attr("transform", (d, i) => `translate(${x(i) + cfg.lab.dx},${cfg.bottom + cfg.lab.dy}) rotate(-45)`)
    .attr("text-anchor", "end").attr("font-size", cfg.lab.fs).attr("font-weight", "bold").attr("fill", "#111").text(d => d);
  yTitle(g, cfg.ytitle, cfg.tx, cfg.ty, cfg.tfs);
  sigBars(g, cfg.sig, s => [x(s.a), x(s.b)], cfg.sigStyle);
  if (cfg.title) {
    g.append("text").attr("x", cfg.title[1]).attr("y", cfg.title[2]).attr("text-anchor", "middle")
      .attr("font-size", cfg.title[3]).attr("font-weight", "bold").attr("fill", "#111").text(cfg.title[0]);
  }
}

// ---- F ----
letter("F", 473, 613);
dotPlot({
  data: [pdl1Yap, pdl1Wwtr, pdl1Comp], domain: [0, 15], ticks: pdl1Ticks, fmt: d3.format("d"),
  top: 603, bottom: 743, left: 599, right: 693, xs: [618, 674], zero: false,
  dot: { d: 3.6, size: 3.4, cap: 5, mean: 9 },
  axis: { tick: 4, color: "#000", w: 2, fs: 10.5 },
  lab: { dx: 4, dy: 9, fs: 10.5 },
  ytitle: "PD-L1 log2 mRNA expression", tx: 573, ty: 673, tfs: 10.5,
  sig: pdl1Sig, sigStyle: { ext: 5, gap: 0, base: 634, step: 15, w: 2.5, ly: 7, fs: 7 }
});

// ---- E ----
letter("E", 12, 856);
const eAxis = { tick: 3, color: "#444", w: 1.5, fs: 8 };
const eDot = { d: 3.0, size: 2.8, cap: 4, mean: 7 };
const eLab = { dx: 3, dy: 8, fs: 8.2 };
dotPlot({
  data: [ifngYap, ifngWwtr, ifngComp], domain: [-4, 4], ticks: [-4, -2, 0, 2, 4], fmt: d3.format("d"),
  top: 883, bottom: 995, left: 55, right: 123, xs: [69, 108], zero: true, dot: eDot, axis: eAxis, lab: eLab,
  ytitle: "Score", tx: 35, ty: 938, tfs: 9.5, title: ["IFNγ response", 102, 840, 10],
  sig: ifngSig, sigStyle: { ext: 2, gap: 0, base: 884, step: 12, w: 1.8, ly: 4.5, fs: 5.5 }
});
dotPlot({
  data: [cd8Yap, cd8Wwtr, cd8Comp], domain: [0, 0.5], ticks: [0, 0.1, 0.2, 0.3, 0.4, 0.5], fmt: d3.format(".1f"),
  top: 883, bottom: 996, left: 200, right: 268, xs: [213, 253], zero: true, dot: eDot, axis: eAxis, lab: eLab,
  ytitle: "Score", tx: 171, ty: 940, tfs: 9.5, title: ["CD8 T cells", 234, 842, 10],
  sig: cd8Sig, sigStyle: { ext: 3, gap: 0, base: 898, step: 11, w: 1.8, ly: 4.5, fs: 5.5 }
});
dotPlot({
  data: [tgfbYap, tgfbWwtr, tgfbComp], domain: [-1, 1.5], ticks: [-1, -0.5, 0, 0.5, 1, 1.5], fmt: d3.format(".1f"),
  top: 897, bottom: 998, left: 325, right: 396, xs: [339, 382], zero: true, dot: eDot, axis: eAxis, lab: eLab,
  ytitle: "Score", tx: 297, ty: 947, tfs: 9.5, title: ["TGF-β response", 355, 843, 10],
  sig: tgfbSig, sigStyle: { ext: 2, gap: 0, base: 900, step: 14, w: 1.8, ly: 4.5, fs: 5.5 }
});

// ---- G ----
letter("G", 482, 857);
dotPlot({
  data: [gepYap, gepWwtr, gepComp], domain: [0, 12000], ticks: gepTicks, fmt: d3.format("d"),
  top: 885, bottom: 1001, left: 581, right: 663, xs: [597, 647], zero: false,
  dot: { d: 3.3, size: 3.0, cap: 4, mean: 0, bar: 17 },
  axis: { tick: 4, color: "#000", w: 1.8, fs: 9 },
  lab: { dx: 4, dy: 9, fs: 9.2 },
  ytitle: "ssGSEA enrichment score", tx: 545, ty: 945, tfs: 9.3, title: ["18-gene T-cell inflammed GEP", 623, 853, 11],
  sig: gepSig, sigStyle: { ext: 3, gap: 0, base: 896, step: 13, w: 2, ly: 4.5, fs: 6 }
});
</script>
</body>
</html>
